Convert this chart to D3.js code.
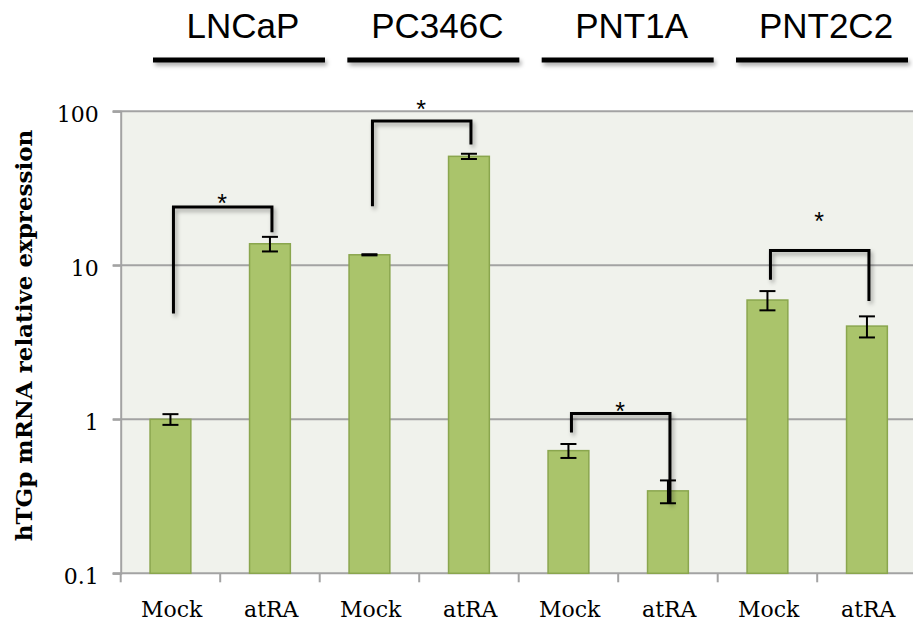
<!DOCTYPE html>
<html>
<head>
<meta charset="utf-8">
<script src="https://cdn.jsdelivr.net/npm/d3@7"></script>
<style>
  html, body { margin: 0; padding: 0; background: #ffffff; }
  svg { display: block; }
</style>
</head>
<body>
<svg id="chart" width="913" height="629"></svg>
<script>
// Expression data: one bar per treatment, two treatments per cell line
const cellLines = ["LNCaP", "PC346C", "PNT1A", "PNT2C2"];
const treatments = ["Mock", "atRA", "Mock", "atRA", "Mock", "atRA", "Mock", "atRA"];
const expression = [1.0, 13.8, 11.7, 51.0, 0.626, 0.343, 5.95, 4.03];
const errors = [0.08, 1.5, 0.1, 2.0, 0.065, 0.058, 0.85, 0.63];
const yTicks = [0.1, 1, 10, 100];
const yTickLabels = ["0.1", "1", "10", "100"];

// Significance brackets: from bar i to bar j, top level, left and right end levels, star level
const bracketFrom = [0, 2, 4, 6];
const bracketTo = [1, 3, 5, 7];
const bracketTop = [23.9, 86.5, 1.089, 12.5];
const bracketLeftEnd = [4.86, 24.2, 0.82, 8.07];
const bracketRightEnd = [16.4, 60.8, 0.284, 5.87];
const starLevel = [27.8, 112.7, 1.23, 21.1];

const svg = d3.select("#chart");
const W = 913, H = 629;

const plotLeft = 120.7, step = 99.5;
const plotRight = plotLeft + step * treatments.length;
const plotTop = 111.3, plotBottom = 573.3;

const x = d3.scaleBand()
  .domain(d3.range(treatments.length))
  .range([plotLeft, plotRight])
  .padding(0);
const y = d3.scaleLog().domain([0.1, 100]).range([plotBottom, plotTop]);

const barW = x.bandwidth() * 0.41;
const cx = i => x(i) + x.bandwidth() / 2;

// Header bands for the cell line names
const hx = d3.scaleBand()
  .domain(cellLines)
  .range([153, 908])
  .paddingInner(0.115)
  .paddingOuter(0);

const defs = svg.append("defs");
const shadow = defs.append("filter").attr("id", "shadow")
  .attr("filterUnits", "userSpaceOnUse")
  .attr("x", 0).attr("y", 0).attr("width", W).attr("height", H);
shadow.append("feDropShadow")
  .attr("dx", 2).attr("dy", 3).attr("stdDeviation", 2)
  .attr("flood-color", "#000").attr("flood-opacity", 0.35);

// Plot background
svg.append("rect")
  .attr("x", plotLeft).attr("y", plotTop)
  .attr("width", plotRight - plotLeft).attr("height", plotBottom - plotTop)
  .attr("fill", "#f0f2ec");

// Gridlines
svg.append("g").selectAll("line")
  .data(yTicks.filter(t => t > 0.1))
  .join("line")
  .attr("x1", plotLeft - 8).attr("x2", plotRight)
  .attr("y1", d => y(d)).attr("y2", d => y(d))
  .attr("stroke", "#a3a3a3").attr("stroke-width", 2);

// Y axis
const yAxis = d3.axisLeft(y)
  .tickValues(yTicks)
  .tickFormat((d, i) => yTickLabels[i])
  .tickSize(8)
  .tickPadding(14);
const gy = svg.append("g").attr("transform", `translate(${plotLeft},0)`).call(yAxis);
gy.select(".domain").attr("stroke", "#a3a3a3").attr("stroke-width", 2);
gy.selectAll(".tick line").attr("stroke", "#a3a3a3").attr("stroke-width", 2);
gy.selectAll(".tick text")
  .attr("font-family", "'DejaVu Serif', serif")
  .attr("font-size", 22)
  .attr("fill", "#000")
  .attr("dy", "0.48em");

// X axis: ticks on category boundaries
const gx = svg.append("g");
gx.append("line")
  .attr("x1", plotLeft - 8).attr("x2", plotRight)
  .attr("y1", plotBottom).attr("y2", plotBottom)
  .attr("stroke", "#a3a3a3").attr("stroke-width", 2);
gx.selectAll("line.tk")
  .data(d3.range(treatments.length + 1))
  .join("line").attr("class", "tk")
  .attr("x1", i => plotLeft + i * x.step()).attr("x2", i => plotLeft + i * x.step())
  .attr("y1", plotBottom).attr("y2", plotBottom + 9)
  .attr("stroke", "#a3a3a3").attr("stroke-width", 2);
gx.selectAll("text")
  .data(treatments)
  .join("text")
  .attr("x", (d, i) => cx(i) + 1.3)
  .attr("y", plotBottom + 43.4)
  .attr("text-anchor", "middle")
  .attr("font-family", "'DejaVu Serif', serif")
  .attr("font-size", 22)
  .attr("fill", "#000")
  .text(d => d);

// Bars
svg.append("g").selectAll("rect")
  .data(expression)
  .join("rect")
  .attr("x", (d, i) => cx(i) - barW / 2)
  .attr("y", d => y(d))
  .attr("width", barW)
  .attr("height", d => plotBottom - y(d))
  .attr("fill", "#aac46b")
  .attr("stroke", "#8aa64e")
  .attr("stroke-width", 1.5);

// Error bars
const eb = svg.append("g").attr("stroke", "#000").attr("stroke-width", 2);
expression.forEach((v, i) => {
  const hi = y(v + errors[i]), lo = y(v - errors[i]), c = cx(i);
  eb.append("line").attr("x1", c).attr("x2", c).attr("y1", hi).attr("y2", lo);
  eb.append("line").attr("x1", c - 8).attr("x2", c + 8).attr("y1", hi).attr("y2", hi);
  eb.append("line").attr("x1", c - 8).attr("x2", c + 8).attr("y1", lo).attr("y2", lo);
});

// Significance brackets
const br = svg.append("g");
bracketFrom.forEach((a, k) => {
  const b = bracketTo[k];
  const xa = cx(a) + 3, xb = cx(b) + 2;
  br.append("path")
    .attr("d", `M${xa},${y(bracketLeftEnd[k])}V${y(bracketTop[k])}H${xb}V${y(bracketRightEnd[k])}`)
    .attr("fill", "none").attr("stroke", "#000").attr("stroke-width", 3)
    .attr("filter", "url(#shadow)");
  br.append("text")
    .attr("x", (cx(a) + cx(b)) / 2 + 2)
    .attr("y", y(starLevel[k]) + 15)
    .attr("text-anchor", "middle")
    .attr("font-family", "'Liberation Sans', Arial, sans-serif")
    .attr("font-size", 25)
    .attr("fill", "#000")
    .text("*");
});

// Y axis title
svg.append("text")
  .attr("transform", "translate(31.5,335.5) rotate(-90)")
  .attr("text-anchor", "middle")
  .attr("font-family", "'DejaVu Serif', serif")
  .attr("font-weight", "bold")
  .attr("font-size", 23)
  .attr("fill", "#000")
  .text("hTGp mRNA relative expression");

// Cell line headers with underline bars
const head = svg.append("g");
cellLines.forEach(name => {
  const hc = hx(name) + hx.bandwidth() / 2;
  head.append("text")
    .attr("x", hc + 4)
    .attr("y", 38.3)
    .attr("text-anchor", "middle")
    .attr("font-family", "'Liberation Sans', Arial, sans-serif")
    .attr("font-size", 35)
    .attr("fill", "#000")
    .text(name);
  head.append("rect")
    .attr("x", hx(name)).attr("width", hx.bandwidth())
    .attr("y", 57.5).attr("height", 5)
    .attr("fill", "#000")
    .attr("filter", "url(#shadow)");
});
</script>
</body>
</html>
